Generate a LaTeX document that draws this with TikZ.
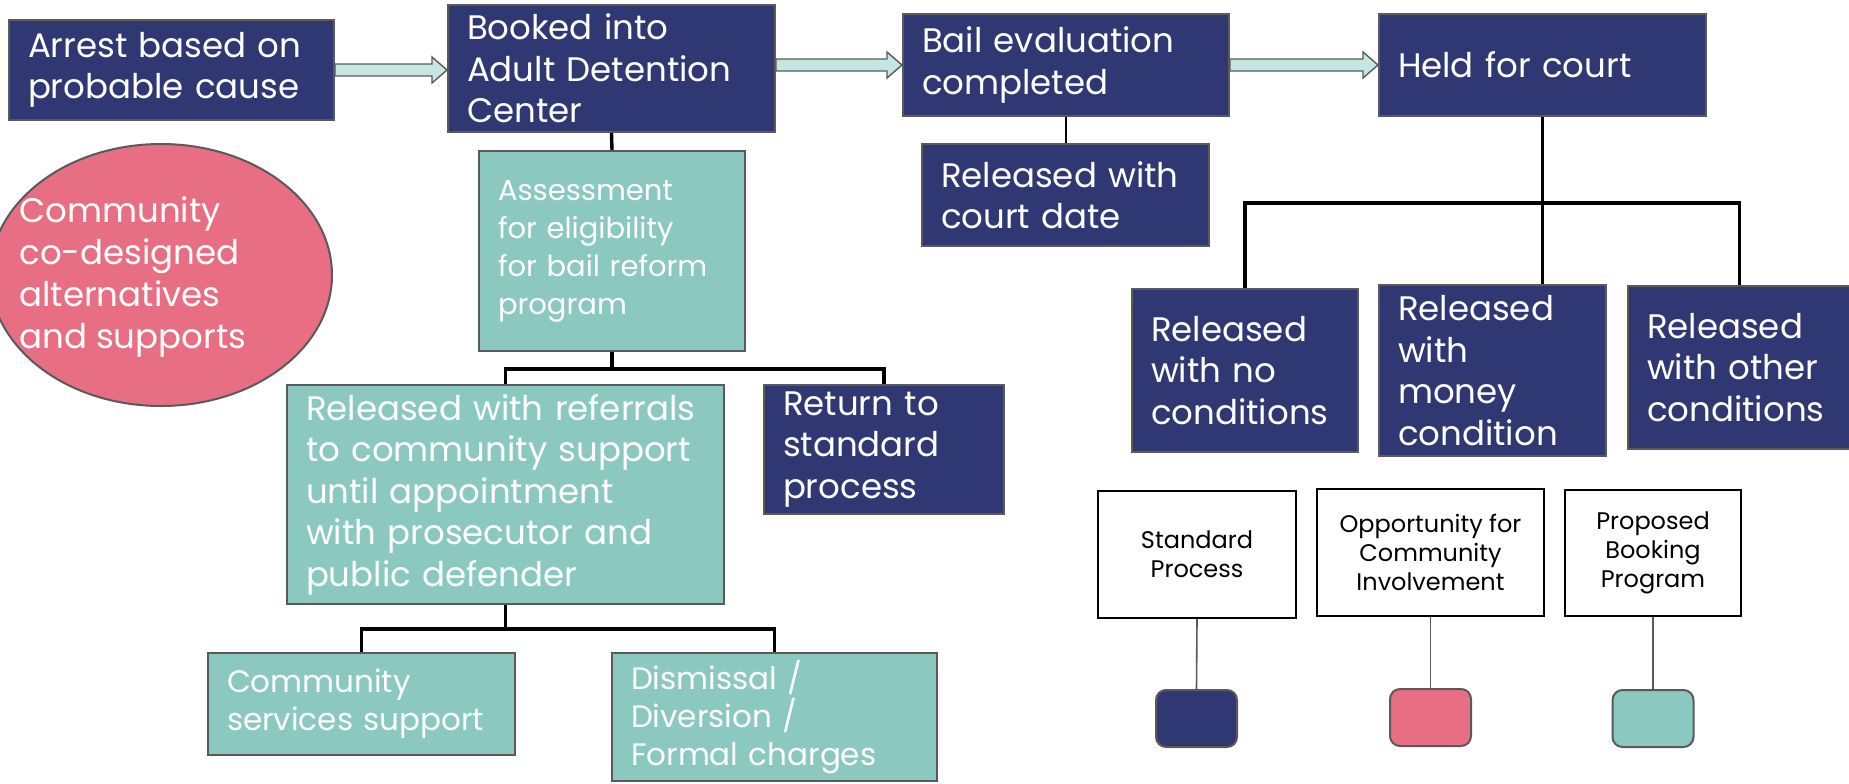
\documentclass[tikz,border=0pt]{standalone}
\usepackage{fontspec}
\setmainfont{Poppins}
\usetikzlibrary{calc,shapes.geometric,positioning}

\definecolor{navy}{HTML}{2F3873}
\definecolor{teal}{HTML}{8AC8C0}
\definecolor{pink}{HTML}{E86E84}
\definecolor{arrowfill}{HTML}{C6E6E4}
\definecolor{edgegray}{HTML}{5A5A5A}

\tikzset{
  box/.style={rectangle, draw=edgegray, line width=1pt, inner xsep=9.5pt,
    inner ysep=0pt, align=left, text=white},
  boxsize/.style 2 args={minimum width=#1, minimum height=#2, text width=#1-19pt},
  navybox/.style={box, fill=navy, font=\fontsize{17}{20.75}\selectfont},
  tealbox/.style={box, fill=teal, font=\fontsize{15.5}{19}\selectfont},
  legbox/.style={rectangle, draw=black, line width=1.2pt, align=center,
    font=\fontsize{12}{14.5}\selectfont},
  swatch/.style={rectangle, rounded corners=5pt, draw=edgegray, line width=1pt,
    minimum width=40.5pt, minimum height=28.5pt},
  treeline/.style={line width=1.7pt},
  fatarrowstyle/.style={draw=edgegray, line width=0.7pt, fill=arrowfill}
}

% block arrow from #1 to #2
\newcommand{\fatarrow}[2]{%
  \draw[fatarrowstyle] ($(#1)+(0,-6)$) -- ($(#2)+(-15,-6)$) -- ($(#2)+(-15,-13)$)
    -- (#2) -- ($(#2)+(-15,13)$) -- ($(#2)+(-15,6)$) -- ($(#1)+(0,6)$) -- cycle;}

\begin{document}
\begin{tikzpicture}[x=0.5pt,y=-0.5pt]
    \useasboundingbox (0,0) rectangle (1849,783);

    % Community ellipse.
    \node[ellipse, fill=pink, draw=edgegray, line width=1pt, minimum width=171pt,
      minimum height=131pt] (community) at (161,275) {};
    \node[anchor=west, align=left, text=white, inner sep=0pt,
      font=\fontsize{17}{21}\selectfont] (communitytext) at (19,277)
      {Community\\co-designed\\alternatives\\and supports};

    % Top row.
    \node[navybox, boxsize={162.5pt}{50pt}] (arrest) at (171.5,70)
      {Arrest based on\\probable cause};
    \node[navybox, boxsize={163.5pt}{63.5pt}] (booked) at (611.5,68.5)
      {Booked into\\Adult Detention\\Center};
    \node[navybox, boxsize={163pt}{51pt}] (bail) at (1066,65)
      {Bail evaluation\\completed};
    \node[navybox, boxsize={163.5pt}{51pt}] (held) at (1542.5,65)
      {Held for court};
    \node[navybox, boxsize={143.5pt}{51pt}] (court) at (1065.5,195)
      {Released with\\court date};

    % Bail reform program.
    \node[tealbox, font=\fontsize{14.5}{19}\selectfont, boxsize={133pt}{100pt}]
      (assess) at (612,251)
      {Assessment\\for eligibility\\for bail reform\\program};
    \node[tealbox, font=\fontsize{17}{20.75}\selectfont, boxsize={218.5pt}{109.5pt}]
      (referrals) at (505.5,494.5)
      {Released with referrals\\to community support\\until appointment\\with prosecutor and\\public defender};
    \node[navybox, boxsize={120pt}{64.5pt}] (return) at (884,449.5)
      {Return to\\standard\\process};
    \node[tealbox, boxsize={153.5pt}{51pt}] (commserv) at (361.5,704)
      {Community\\services support};
    \node[tealbox, boxsize={162.5pt}{64pt}] (dismissal) at (774.5,717)
      {Dismissal /\\Diversion /\\Formal charges};

    % Held for court outcomes.
    \node[navybox, boxsize={113pt}{81.5pt}] (noconds) at (1245,370.5)
      {Released\\with no\\conditions};
    \node[navybox, boxsize={113.5pt}{85.5pt}] (money) at (1492.5,370.5)
      {Released\\with\\money\\condition};
    \node[navybox, boxsize={111.5pt}{81.5pt}] (othercond) at (1739.5,367.5)
      {Released\\with other\\conditions};

    % Block arrows.
    \fatarrow{arrest.east}{arrest.east -| booked.west}
    \fatarrow{bail.west -| booked.east}{bail.west}
    \fatarrow{bail.east}{held.west}

    % Tree lines.
    \draw[treeline] (booked.south) -- (assess.north);
    \coordinate (split1) at ($(assess.south)+(0,17)$);
    \draw[treeline] (assess.south) -- (split1) -| (referrals.north);
    \draw[treeline] (split1) -| (return.north);
    \coordinate (split2) at ($(referrals.south)+(0,24)$);
    \draw[treeline] (referrals.south) -- (split2) -| (commserv.north);
    \draw[treeline] (split2) -| (dismissal.north);
    \draw[line width=1.2pt] (bail.south) -- (bail.south |- court.north);
    \coordinate (split3) at ($(held.south)+(0,86)$);
    \draw[treeline] (held.south) -- (held.south |- money.north);
    \draw[treeline] (split3) -| (noconds.north);
    \draw[treeline] (split3) -| (othercond.north);

    % Legend.
    \node[legbox, minimum width=99pt, minimum height=63.5pt] (legstd) at (1197,554.5)
      {Standard\\Process};
    \node[legbox, minimum width=113.5pt, minimum height=63.5pt] (legopp) at (1430.5,552.5)
      {Opportunity for\\Community\\Involvement};
    \node[legbox, minimum width=88pt, minimum height=63pt] (legprop) at (1653,553)
      {Proposed\\Booking\\Program};
    \node[swatch, fill=navy] (swstd) at (1196.5,718.5) {};
    \node[swatch, fill=pink] (swopp) at (1430.5,717.5) {};
    \node[swatch, fill=teal] (swprop) at (1653,718.5) {};
    \draw[edgegray, line width=0.8pt] (legstd.south) -- (swstd.north);
    \draw[edgegray, line width=0.8pt] (legopp.south) -- (swopp.north);
    \draw[edgegray, line width=0.8pt] (legprop.south) -- (swprop.north);

\end{tikzpicture}
\end{document}
